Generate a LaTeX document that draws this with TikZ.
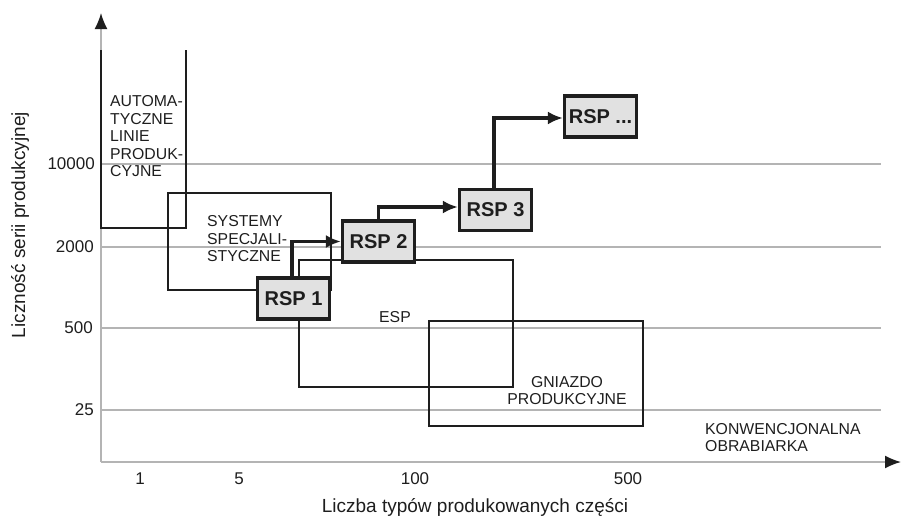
\documentclass[tikz,border=0pt]{standalone}
\usepackage{fontspec}
\setmainfont{Liberation Sans}
\usetikzlibrary{arrows.meta}
\definecolor{gridgray}{HTML}{B4B4B4}
\definecolor{ink}{HTML}{1E1E1E}
\definecolor{boxfill}{HTML}{E1E1E1}
\begin{document}
\begin{tikzpicture}[x=1pt,y=-1pt,
  gridline/.style={draw=gridgray, line width=1.2pt},
  axisline/.style={draw=gridgray, line width=1.6pt, -{Latex[length=16pt,width=13pt,color=ink]}},
  region/.style={draw=ink, line width=2.6pt},
  rsp/.style={draw=ink, fill=boxfill, line width=3.2pt, minimum width=72pt, minimum height=41pt,
    inner sep=0pt, font=\fontsize{20}{24}\selectfont\bfseries, text=ink},
  flow/.style={draw=ink, line width=3.1pt, -{Latex[length=15pt,width=13pt]}},
  ticklabel/.style={font=\fontsize{17}{20}\selectfont, text=ink, inner sep=0pt},
  axistitle/.style={font=\fontsize{19}{22}\selectfont, text=ink, inner sep=0pt},
  areatext/.style={font=\fontsize{15.8}{17.5}\selectfont, text=ink, inner sep=0pt},
]
\useasboundingbox (0,0) rectangle (902,520);

% axes
\coordinate (origin) at (101,462);
\coordinate (ytip) at (101,13);
\coordinate (xtip) at (901,462);

% horizontal grid lines
\foreach \yy in {164,247,328,410}
  \draw[gridline] (101,\yy) -- (881,\yy);

\draw[axisline] (origin) -- (ytip);
\draw[axisline] (origin) -- (xtip);

% tick labels
\node[ticklabel, anchor=east] (t10000) at (95,164) {10000};
\node[ticklabel, anchor=east] (t2000) at (94,247) {2000};
\node[ticklabel, anchor=east] (t500) at (93,328) {500};
\node[ticklabel, anchor=east] (t25) at (94,410) {25};
\node[ticklabel] (x1) at (140,479) {1};
\node[ticklabel] (x5) at (239,479) {5};
\node[ticklabel] (x100) at (415,479) {100};
\node[ticklabel] (x500) at (628,479) {500};

% axis titles
\node[axistitle] (xtitle) at (475,507) {Liczba typów produkowanych części};
\node[axistitle, rotate=90] (ytitle) at (20,225) {Liczność serii produkcyjnej};

% areas of application
\draw[region] (101,50) -- (101,228) -- (186,228) -- (186,50);
\draw[region] (168,193) rectangle (331,290);
\draw[region] (299,260) rectangle (513,387);
\draw[region] (429,321) rectangle (643,426);

\node[areatext, align=left, anchor=west] (auto) at (110,136.5)
  {AUTOMA-\\TYCZNE\\LINIE\\PRODUK-\\CYJNE};
\node[areatext, align=left, anchor=west] (spec) at (207,239)
  {SYSTEMY\\SPECJALI-\\STYCZNE};
\node[areatext] (esp) at (395,317) {ESP};
\node[areatext, align=center] (gniazdo) at (567,390.5) {GNIAZDO\\PRODUKCYJNE};
\node[areatext, align=left, anchor=west] (konw) at (705,437.5)
  {KONWENCJONALNA\\OBRABIARKA};

% reconfigurable systems
\node[rsp] (rsp1) at (293.5,298.5) {RSP 1};
\node[rsp] (rsp2) at (378.5,241.5) {RSP 2};
\node[rsp] (rsp3) at (495.5,210) {RSP 3};
\node[rsp] (rspn) at (600.5,116.5) {RSP ...};

\draw[flow] ([xshift=-1.5pt]rsp1.north) |- (rsp2.west);
\draw[flow] (rsp2.north) |- ([yshift=3pt]rsp3.west);
\draw[flow] ([xshift=-1.5pt]rsp3.north) |- ([yshift=-1.5pt]rspn.west);
\end{tikzpicture}
\end{document}
